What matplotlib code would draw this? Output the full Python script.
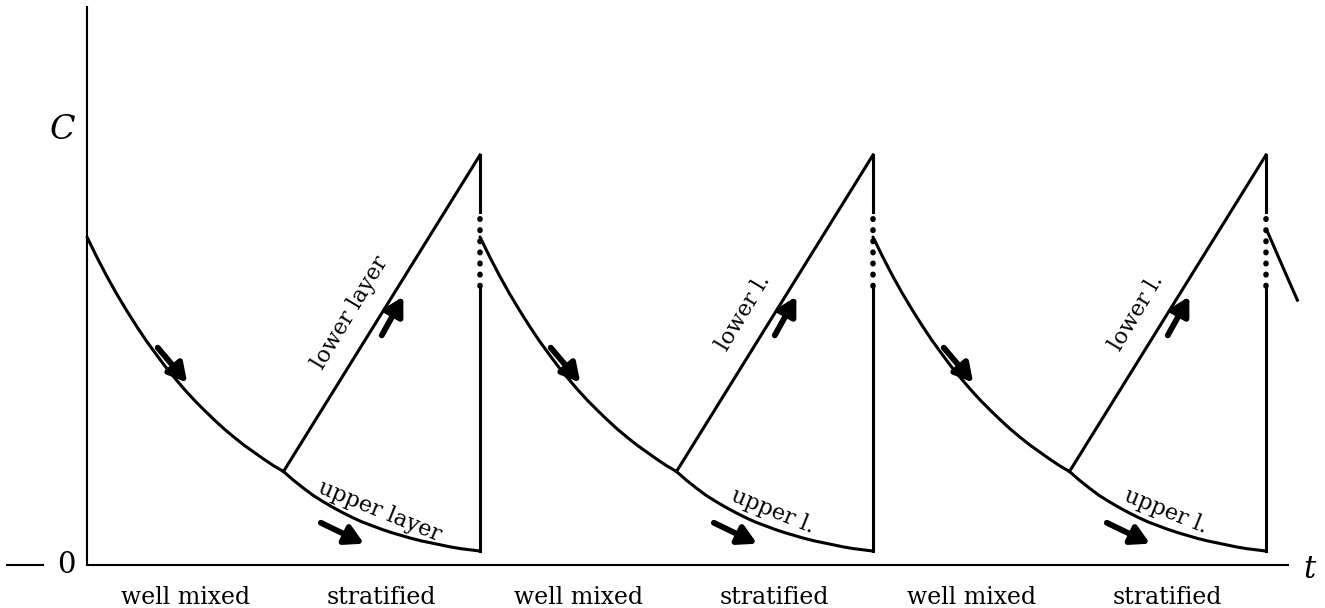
import matplotlib
matplotlib.use("Agg")
import matplotlib.pyplot as plt

# time in half-periods: well mixed 0-1, stratified 1-2, then repeat
cycle_start = [0.0, 2.0, 4.0]
branch_time = [1.0, 3.0, 5.0]
mix_time = [2.0, 4.0, 6.0]

# concentration along one well-mixed phase and one stratified upper layer
phase_s = [0.0, 0.05, 0.1, 0.15, 0.2, 0.25, 0.3, 0.35, 0.4, 0.45, 0.5,
           0.55, 0.6, 0.65, 0.7, 0.75, 0.8, 0.85, 0.9, 0.95, 1.0]
mixed_c = [0.80, 0.751, 0.705, 0.662, 0.622, 0.584, 0.548, 0.515, 0.483, 0.454, 0.426,
           0.400, 0.376, 0.353, 0.331, 0.311, 0.292, 0.275, 0.258, 0.242, 0.228]
upper_c = [0.228, 0.207, 0.188, 0.170, 0.155, 0.141, 0.128, 0.116, 0.105, 0.096, 0.087,
           0.079, 0.072, 0.065, 0.059, 0.054, 0.049, 0.044, 0.040, 0.037, 0.034]
peak_c = 1.0
mixing_dots = (0.68, 0.86)

# last bit of the fourth well-mixed phase
tail_t = [6.01, 6.06, 6.11, 6.16]
tail_c = [0.81, 0.755, 0.70, 0.646]

phase_names = ["well mixed", "stratified"] * 3
lower_names = ["lower layer", "lower l.", "lower l."]
upper_names = ["upper layer", "upper l.", "upper l."]

t_axis_end = 6.11
c_axis_top = 1.36

serif = ["DejaVu Serif"]
lw = 2.2

fig = plt.figure(figsize=(13.25, 6.08), dpi=100)
ax = fig.add_axes([0, 0, 1, 1])
ax.set_xlim(-0.4427, 6.3003)
ax.set_ylim(-0.1049, 1.378)
ax.axis("off")

# axes drawn by hand
ax.plot([0, 0], [0, c_axis_top], color="k", lw=1.5)
ax.plot([0, t_axis_end], [0, 0], color="k", lw=1.5)
ax.plot([-0.407, -0.224], [0, 0], color="k", lw=1.5)
ax.text(-0.107, 0.0, "0", family=serif, fontsize=21, ha="center", va="center")
ax.text(-0.127, 1.061, "C", family=serif, style="italic", fontsize=24, ha="center", va="center")
ax.text(6.22, -0.012, "t", family=serif, style="italic", fontsize=22, ha="center", va="center")

for i, name in enumerate(phase_names):
    ax.text(i + 0.5, -0.095, name, family=serif, fontsize=17, ha="center", va="baseline")


def arrow(p0, p1):
    ax.annotate("", xy=p1, xytext=p0,
                arrowprops=dict(arrowstyle="-|>,head_length=0.9,head_width=0.5",
                                lw=4.2, color="k", shrinkA=0, shrinkB=0,
                                mutation_scale=12))


for k in range(3):
    t0, tb, tm = cycle_start[k], branch_time[k], mix_time[k]

    # well mixed decay
    ax.plot([t0 + s for s in phase_s], mixed_c, color="k", lw=lw, solid_capstyle="round")
    # stratified: upper layer keeps decaying, lower layer builds up
    ax.plot([tb + s for s in phase_s], upper_c, color="k", lw=lw, solid_joinstyle="round")
    ax.plot([tb, tm], [mixed_c[-1], peak_c], color="k", lw=lw)

    # mixing event: both layers jump to the mixed value
    ax.plot([tm, tm], [upper_c[-1], mixing_dots[0]], color="k", lw=lw)
    ax.plot([tm, tm], [mixing_dots[1], peak_c], color="k", lw=lw)
    ax.plot([tm, tm], list(mixing_dots), color="k", lw=4.0,
            linestyle=(0, (0.1, 1.9)), dash_capstyle="round")

    # direction arrows
    arrow((t0 + 0.36, 0.53), (t0 + 0.51, 0.445))
    arrow((tb + 0.50, 0.56), (tb + 0.61, 0.655))
    arrow((tb + 0.19, 0.103), (tb + 0.41, 0.052))

    ax.text(tb + 0.34, 0.615, lower_names[k], family=serif, fontsize=16,
            rotation=59, ha="center", va="center", rotation_mode="anchor")
    ax.text(tb + 0.49, 0.132, upper_names[k], family=serif, fontsize=16,
            rotation=-22, ha="center", va="center", rotation_mode="anchor")

ax.plot(tail_t, tail_c, color="k", lw=lw, clip_on=False)

fig.savefig("out.png", dpi=100)
